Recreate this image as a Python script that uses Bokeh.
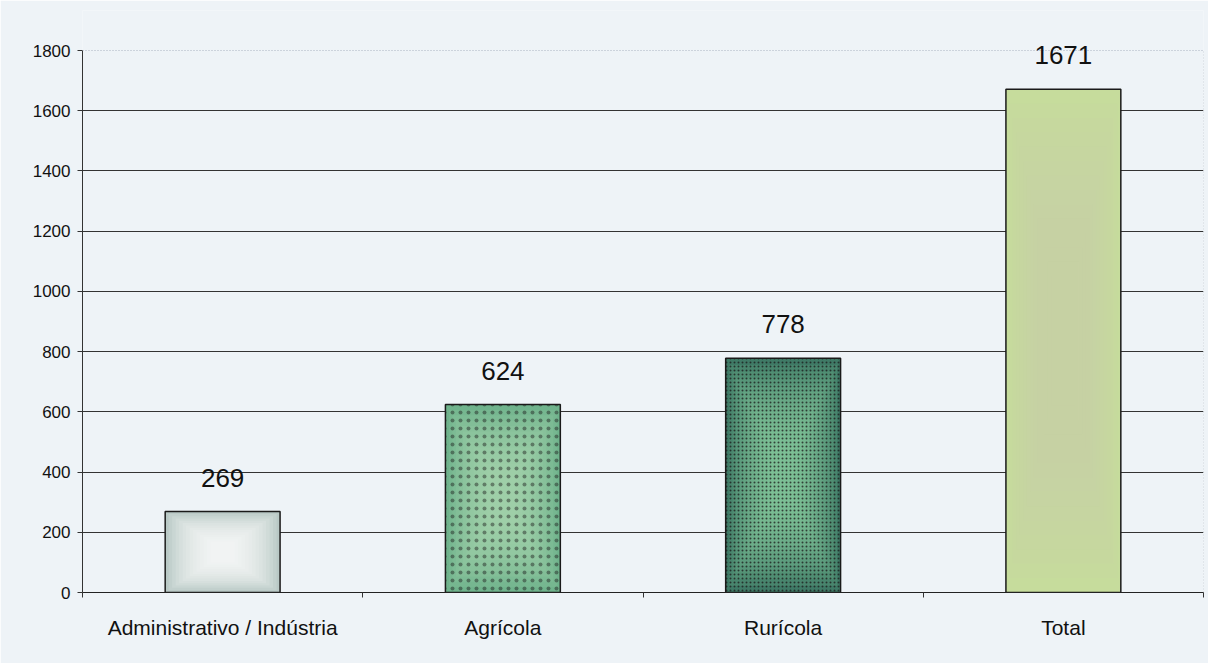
from bokeh.plotting import figure
from bokeh.models import FixedTicker, Range1d, ColumnDataSource, LabelSet, Span
from bokeh.core.properties import value
from bokeh.embed import file_html
from bokeh.resources import INLINE

# Data
categories = ["Administrativo / Indústria", "Agrícola", "Rurícola", "Total"]
counts = [269, 624, 778, 1671]
y_ticks = [0, 200, 400, 600, 800, 1000, 1200, 1400, 1600, 1800]

# Bar styling: edge colour, centre glow colour, dot texture
edge_colors = ["#b9c9c6", "#6fb38c", "#3f7a66", "#c6dc9c"]
glow_colors = ["#ffffff", "#a8dcae", "#8ad0a6", "#c9d2a8"]
dot_alpha = [0.0, 0.45, 0.75, 0.0]
dot_scale = [8, 8, 4, 8]

FONT = "Liberation Sans"
BG = "#eef3f7"
FRAME = "#aab3c0"

xs = [i + 0.5 for i in range(len(categories))]
bar_w = 0.41
y_max = y_ticks[-1]
# headroom above the top tick so the tallest value label is not clipped
y_top = y_max * 582 / 542

p = figure(width=1208, height=663, output_backend="svg", toolbar_location=None,
           x_range=Range1d(0, len(categories)), y_range=Range1d(0, y_top),
           min_border_left=82, min_border_right=5, min_border_top=10,
           min_border_bottom=71)
p.background_fill_color = BG
p.border_fill_color = BG
p.outline_line_color = None

# Light dotted frame: top edge at the last tick and the right edge
p.add_layout(Span(location=y_max, dimension="width", line_color=FRAME,
                  line_dash="1 2", line_width=1))
p.segment(x0=[len(categories)], y0=[0], x1=[len(categories)], y1=[y_max],
          line_color=FRAME, line_dash="1 2", line_width=1)

# Grid lines
p.xgrid.visible = False
p.ygrid.ticker = FixedTicker(ticks=y_ticks[1:-1])
p.ygrid.grid_line_color = "#333333"
p.ygrid.grid_line_width = 1

# Y axis
p.yaxis.ticker = FixedTicker(ticks=y_ticks)
p.yaxis.bounds = (0, y_max)
p.yaxis.axis_line_color = "#333333"
p.yaxis.major_tick_line_color = "#333333"
p.yaxis.major_tick_out = 5
p.yaxis.major_tick_in = 0
p.yaxis.minor_tick_line_color = None
p.yaxis.major_label_standoff = 7
p.yaxis.major_label_text_font = FONT
p.yaxis.major_label_text_font_size = "17px"
p.yaxis.major_label_text_color = "#111111"

# X axis: labels at centres, ticks at category boundaries
p.xaxis.ticker = FixedTicker(ticks=xs, minor_ticks=list(range(len(categories) + 1)))
p.xaxis.major_label_overrides = {x: c for x, c in zip(xs, categories)}
p.xaxis.axis_line_color = "#222222"
p.xaxis.major_tick_line_color = None
p.xaxis.minor_tick_line_color = "#333333"
p.xaxis.minor_tick_out = 5
p.xaxis.minor_tick_in = 0
p.xaxis.major_label_standoff = 17
p.xaxis.major_label_text_font = FONT
p.xaxis.major_label_text_font_size = "21px"
p.xaxis.major_label_text_color = "#111111"

src = ColumnDataSource(dict(x=xs, top=counts, edge=edge_colors,
                            dots=dot_alpha, scale=dot_scale,
                            label=[str(v) for v in counts]))

# Base bar fill
p.vbar(x="x", top="top", width=bar_w, bottom=0, source=src,
       fill_color="edge", line_color=None)

# Soft centre glow built from nested, shrinking rectangles
layers = 14
for k in range(1, layers):
    f = k / layers
    p.rect(x=xs, y=[v / 2 for v in counts],
           width=bar_w * (1 - 0.85 * f), height=[v * (1 - 0.8 * f) for v in counts],
           fill_color=glow_colors, fill_alpha=0.13, line_color=None)

# Dot texture and outline
p.vbar(x="x", top="top", width=bar_w, bottom=0, source=src,
       fill_color=None, line_color="#1a1a1a", line_width=1.5,
       hatch_pattern="dot", hatch_color="#1a1a1a", hatch_alpha="dots",
       hatch_scale="scale", hatch_weight=1.2)

# Value labels above bars
labels = LabelSet(x="x", y="top", text="label", source=src, y_offset=34,
                  text_align="center", text_baseline="middle",
                  text_font=value(FONT), text_font_size="26px",
                  text_color="#111111")
p.add_layout(labels)

open("out.html", "w").write(file_html(p, INLINE))
